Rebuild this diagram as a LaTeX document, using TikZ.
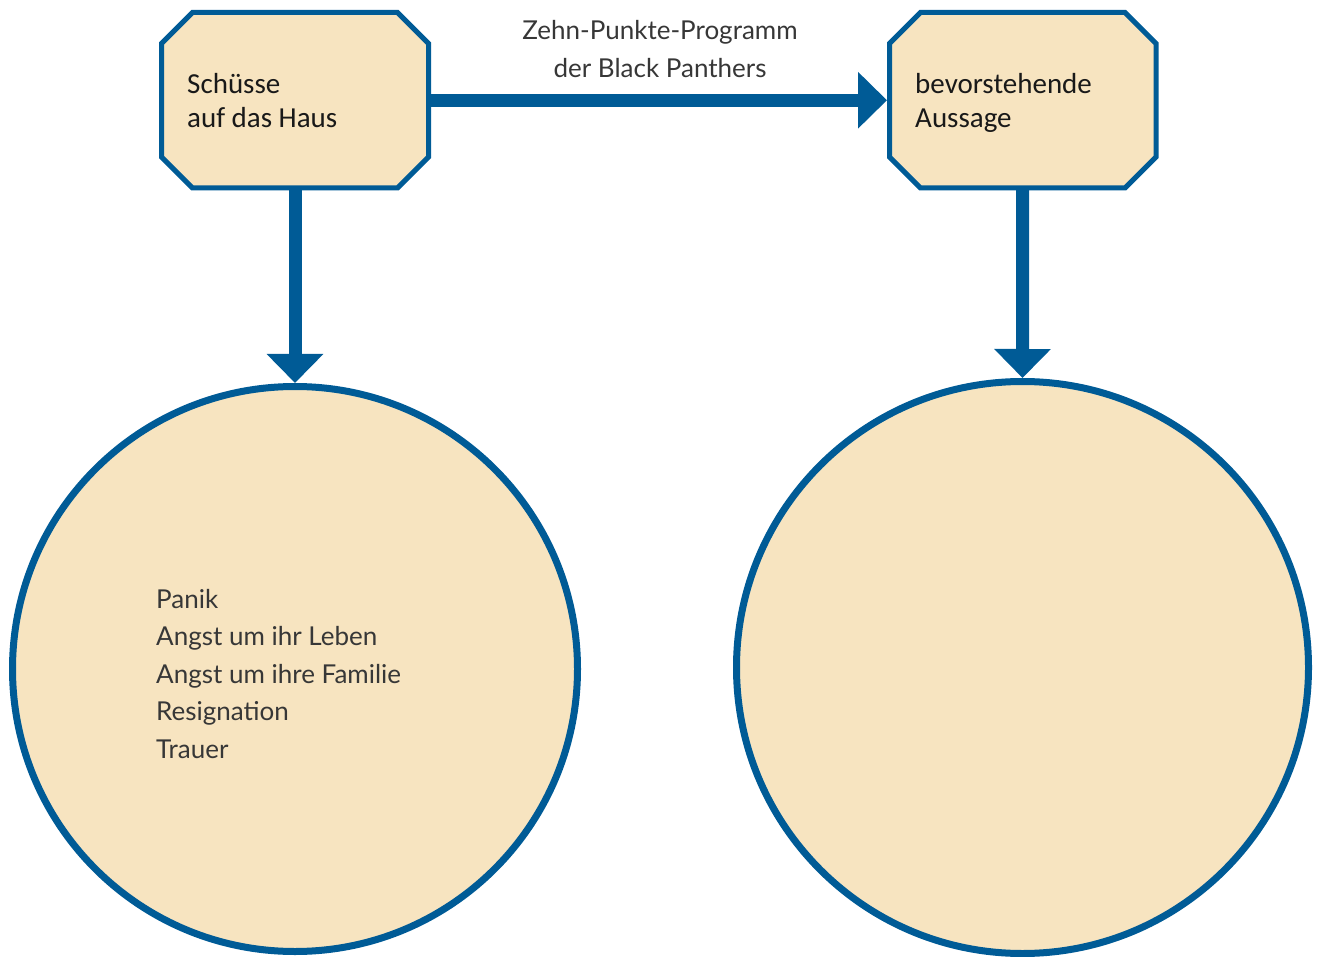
\documentclass[tikz,border=0pt]{standalone}
\usepackage{fontspec}
\setmainfont{Lato}
\newfontfamily\boxfont{Carlito}
\usetikzlibrary{arrows.meta}
\definecolor{frame}{RGB}{0,91,150}
\definecolor{paper}{RGB}{247,228,192}
\definecolor{ink}{RGB}{25,25,25}
\definecolor{softink}{RGB}{55,55,55}
\tikzset{
  octline/.style={draw=frame, fill=paper, line width=5pt, line join=miter},
  anchorbox/.style={rectangle, minimum width=272pt, minimum height=180.5pt, inner sep=0pt, outer sep=0pt},
  bubble/.style={circle, draw=frame, fill=paper, line width=7pt, inner sep=0pt},
  flow/.style={draw=frame, line width=13pt, -{Triangle[width=55pt,length=29pt]}},
  boxtext/.style={anchor=base west, inner sep=0pt, font=\boxfont\fontsize{29}{34}\selectfont, text=ink},
  listtext/.style={anchor=base west, inner sep=0pt, font=\fontsize{26}{37.5}\selectfont, text=softink},
}
% chamfered box outline: centre x, centre y, half width, half height, cut
\newcommand\octpath[5]{%
  \path[octline] (#1-#3+#5,#2-#4) -- (#1+#3-#5,#2-#4) -- (#1+#3,#2-#4+#5)
    -- (#1+#3,#2+#4-#5) -- (#1+#3-#5,#2+#4) -- (#1-#3+#5,#2+#4)
    -- (#1-#3,#2+#4-#5) -- (#1-#3,#2-#4+#5) -- cycle;}
\begin{document}
\begin{tikzpicture}[x=1pt,y=-1pt]
\useasboundingbox (0,0) rectangle (1317,957);
% anchor frames of the two boxes
\node[anchorbox] (shots) at (295,100.25) {};
\node[anchorbox, minimum width=271.5pt] (testimony) at (1022.75,100.25) {};
% result bubbles
\node[bubble, minimum size=565pt] (fear) at (295,669) {};
\node[bubble, minimum size=572pt] (outcome) at (1022.5,667.5) {};
% connectors (start inside the boxes, hidden by their fill)
\draw[flow] (shots.center) -- (testimony.west);
\draw[flow] (shots.center) -- (fear.north);
\draw[flow] (testimony.center) -- (outcome.north);
% box outlines
\octpath{295}{100.25}{133.5}{87.75}{31}
\octpath{1022.75}{100.25}{133.25}{87.75}{31}
% box labels
\node[boxtext] (shotsA) at (187,94) {Schüsse};
\node[boxtext] (shotsB) at (187,128) {auf das Haus};
\node[boxtext] (testA) at (915,93.5) {bevorstehende};
\node[boxtext] (testB) at (915,128) {Aussage};
% connector label
\node[listtext, anchor=base] (progA) at (660,40) {Zehn-Punkte-Programm};
\node[listtext, anchor=base] (progB) at (660,77.5) {der Black Panthers};
% reactions
\node[listtext] (r1) at (156,608) {Panik};
\node[listtext] (r2) at (156,645.5) {Angst um ihr Leben};
\node[listtext] (r3) at (156,683) {Angst um ihre Familie};
\node[listtext] (r4) at (156,720.5) {Resignation};
\node[listtext] (r5) at (156,758) {Trauer};
\end{tikzpicture}
\end{document}
